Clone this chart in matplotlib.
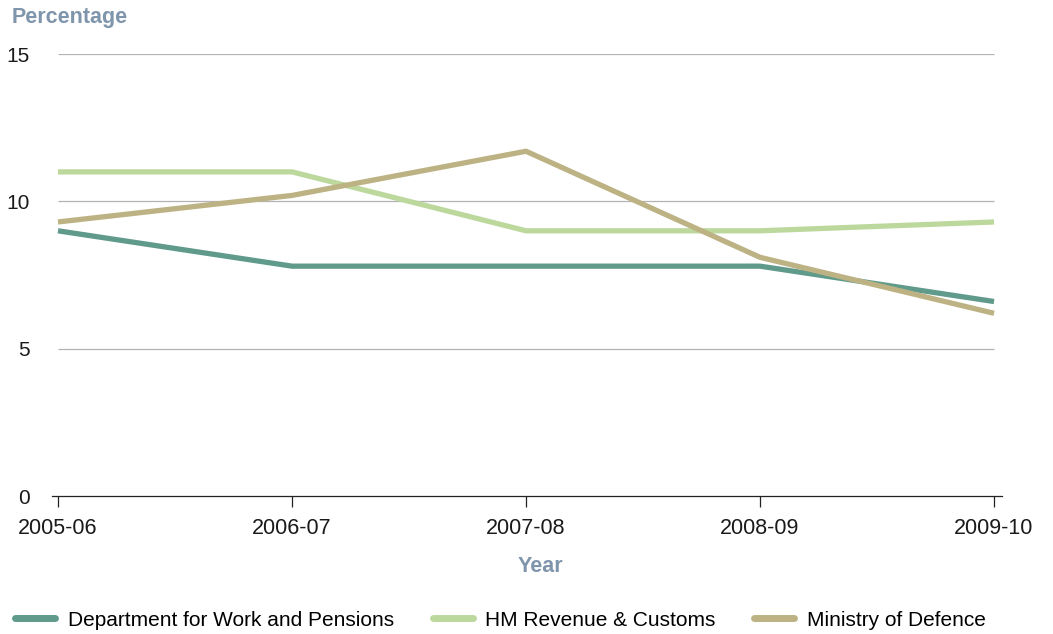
import matplotlib.pyplot as plt

years = ["2005-06", "2006-07", "2007-08", "2008-09", "2009-10"]
dwp = [9.0, 7.8, 7.8, 7.8, 6.6]
hmrc = [11.0, 11.0, 9.0, 9.0, 9.3]
mod = [9.3, 10.2, 11.7, 8.1, 6.2]

series = [
    ("Department for Work and Pensions", dwp, "#5f9a8b"),
    ("HM Revenue & Customs", hmrc, "#bcd89d"),
    ("Ministry of Defence", mod, "#bcb283"),
]

plt.rcParams["font.family"] = ["Liberation Sans", "DejaVu Sans"]

fig = plt.figure(figsize=(10.53, 6.34), dpi=100)
ax = fig.add_axes([52 / 1053, 138 / 634, 950 / 1053, 442 / 634])

x = list(range(len(years)))

# horizontal gridlines only across the data range
for v in [5, 10, 15]:
    ax.hlines(v, 0, len(years) - 1, color="#b3b3b3", lw=0.9, zorder=1)

for name, vals, col in series:
    ax.plot(x, vals, color=col, lw=3.8, label=name, solid_capstyle="butt", zorder=3)

ax.set_xlim(-0.0256, 4.034)
ax.set_ylim(0, 15)
ax.set_xticks(x)
ax.set_xticklabels(years, fontsize=15.5)
ax.set_yticks([0, 5, 10, 15])
ax.set_yticklabels(["0", "5", "10", "15"], fontsize=15)

for s in ["top", "right", "left"]:
    ax.spines[s].set_visible(False)
ax.spines["bottom"].set_color("#222222")
ax.spines["bottom"].set_linewidth(0.9)
ax.tick_params(axis="x", length=8, width=0.9, color="#222222", pad=8, labelcolor="#1a1a1a")
ax.tick_params(axis="y", length=0, pad=16, labelcolor="#1a1a1a")

fig.text(12 / 1053, 1 - 18 / 634, "Percentage", fontsize=15.5, fontweight="bold",
         color="#7f95ab", va="center", ha="left")
fig.text(540 / 1053, 1 - 567 / 634, "Year", fontsize=15.5, fontweight="bold",
         color="#7f95ab", va="center", ha="center")

leg = fig.legend(loc="center left", bbox_to_anchor=(7 / 1053, 1 - 620 / 634), ncol=3,
                 frameon=False, fontsize=15, handlelength=1.92, handletextpad=0.62,
                 columnspacing=1.83, borderaxespad=0)
for h in leg.get_lines():
    h.set_linewidth(5)
    h.set_solid_capstyle("round")

fig.savefig("out.png", dpi=100)
